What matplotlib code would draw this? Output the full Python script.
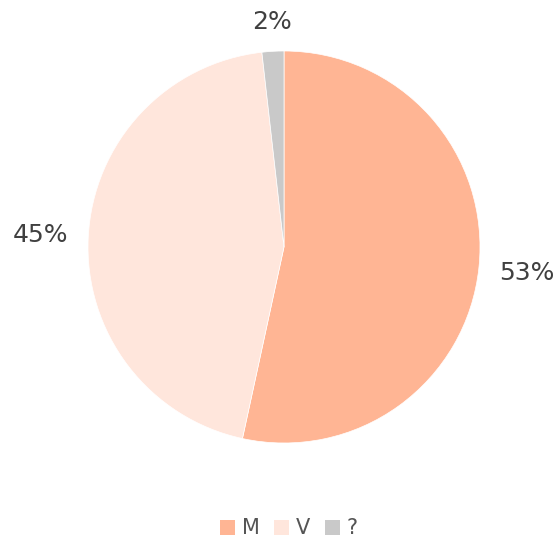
import matplotlib
matplotlib.use("Agg")
import matplotlib.pyplot as plt
from matplotlib.patches import Patch

categories = ["M", "V", "?"]
values = [53.4, 44.8, 1.8]
colors = ["#FFB594", "#FFE6DC", "#C9C9C9"]

W, H = 559, 541
fig = plt.figure(figsize=(W / 100, H / 100), dpi=100)
fig.patch.set_facecolor("white")

cx, cy, r = 284, 247, 196
ax = fig.add_axes([(cx - r) / W, (H - cy - r) / H, 2 * r / W, 2 * r / H])

wedges, texts, autotexts = ax.pie(
    values, colors=colors, startangle=90, counterclock=False, radius=1,
    autopct=lambda p: f"{p:.0f}%", pctdistance=1.245,
    wedgeprops=dict(edgecolor="white", linewidth=0.5),
    textprops=dict(fontsize=18, color="#404040"),
)
ax.set_xlim(-1, 1)
ax.set_ylim(-1, 1)
ax.axis("off")
for t in autotexts:
    t.set_clip_on(False)
    t.set_ha("center")
    t.set_va("center")
# small slice label sits closer
x, y = autotexts[2].get_position()
autotexts[2].set_position((x * 1.12 / 1.245, y * 1.15 / 1.245))

handles = [Patch(facecolor=c, edgecolor="none", label=l) for c, l in zip(colors, categories)]
leg = fig.legend(handles=handles, loc="center", bbox_to_anchor=(289 / W, 1 - 528.5 / H),
                 ncol=3, frameon=False, fontsize=15, handlelength=0.7, handleheight=0.7,
                 handletextpad=0.35, columnspacing=0.7, borderaxespad=0, borderpad=0)
for t in leg.get_texts():
    t.set_color("#555555")

fig.savefig("out.png", dpi=100, facecolor="white")
